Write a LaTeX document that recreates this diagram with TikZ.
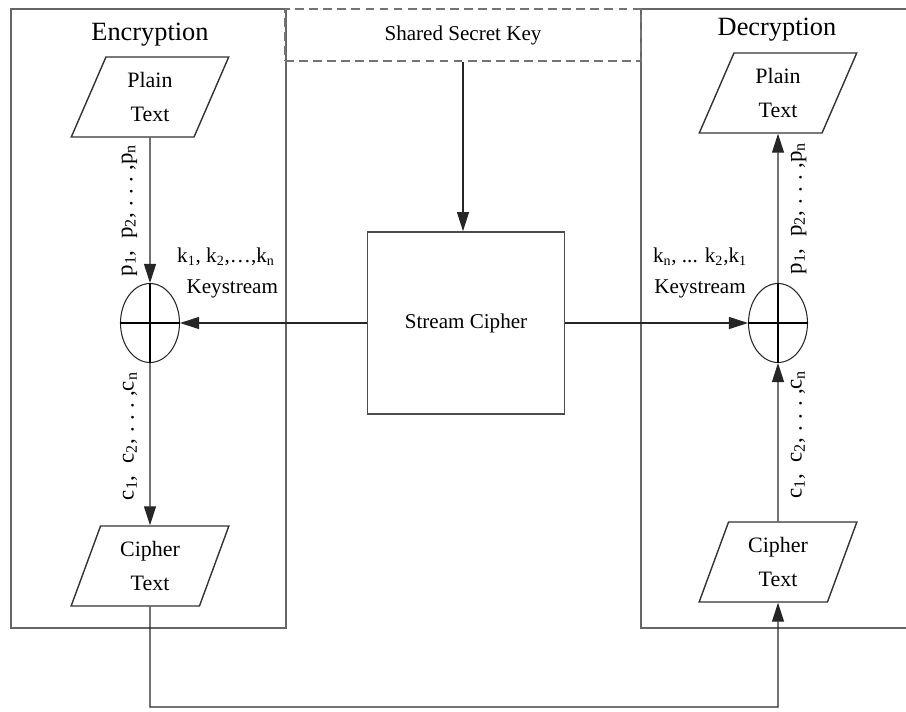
\documentclass[tikz,border=0pt]{standalone}
\usepackage{fontspec}
\setmainfont{Liberation Serif}
\usetikzlibrary{shapes.geometric, arrows.meta, fit}

\begin{document}
\begin{tikzpicture}[x=0.02cm, y=-0.02cm]
    \tikzstyle{frame} = [draw=black!60, line width=1.1pt, inner sep=0pt]
    \tikzstyle{keybox} = [draw=black!55, line width=1.1pt, dash pattern=on 5pt off 3pt, inner sep=0pt]
    \tikzstyle{io} = [trapezium, trapezium left angle=70, trapezium right angle=110, trapezium stretches=true, draw=black!80, line width=0.8pt, minimum width=3.16cm, minimum height=1.6cm, align=center, inner sep=0pt, font=\fontsize{12.5}{19}\selectfont]
    \tikzstyle{xor} = [ellipse, draw=black!85, line width=0.6pt, minimum width=1.18cm, minimum height=1.58cm, inner sep=0pt]
    \tikzstyle{process} = [rectangle, draw=black!70, line width=1pt, minimum width=3.94cm, minimum height=3.64cm, font=\fontsize{12}{14}\selectfont]
    \tikzstyle{arrow} = [line width=0.6pt, draw=black!85, -{Triangle[length=0.38cm, width=0.24cm]}]
    \tikzstyle{title} = [font=\fontsize{15}{17}\selectfont]
    \tikzstyle{seq} = [font=\fontsize{12}{17.5}\selectfont, inner sep=2pt]
    \tikzstyle{stream} = [font=\fontsize{13}{15}\selectfont, inner sep=7pt, rotate=90]

    \newcommand{\plist}[1]{#1\textsubscript{1},\ \ #1\textsubscript{2},\;.\;.\;.\;,#1\textsubscript{n}}

    \useasboundingbox (0,0) rectangle (906,711);
    \clip (0,0) rectangle (906,711);

    % outer frames and the shared key
    \node (encbox) [frame, fit={(11,9) (286,628)}] {};
    \node (decbox) [frame, fit={(641,9) (930,628)}] {};
    \node (key) [keybox, fit={(285,9) (641,61)}] {};
    \node at (key.center) [font=\fontsize{12}{14}\selectfont] (keytext) {Shared Secret Key};
    \node (enctitle) [title] at (150,35) {Encryption};
    \node (dectitle) [title] at (777,30) {Decryption};

    \node (cipher) [process] at (466,323) {Stream Cipher};

    % encryption side
    \node (plain1) [io] at (150,97) {Plain\\Text};
    \node (xor1) [xor] at (150,323) {};
    \node (ct1) [io] at (150,566) {Cipher\\Text};

    % decryption side
    \node (plain2) [io] at (778,93) {Plain\\Text};
    \node (xor2) [xor] at (778,323) {};
    \node (ct2) [io] at (778,562) {Cipher\\Text};

    \node (ks1) [seq, align=center] at (226,273) {k\textsubscript{1}, k\textsubscript{2},\ldots,k\textsubscript{n}\\\hspace*{0.6em}Keystream};
    \node (ks2) [seq, align=center] at (700,273) {k\textsubscript{n}, ... k\textsubscript{2},k\textsubscript{1}\\Keystream};

    % plus signs inside the xor circles
    \draw [line width=0.6pt] (xor1.west) -- (xor1.east);
    \draw [line width=0.6pt] (xor2.west) -- (xor2.east);
    \draw [line width=0.6pt] (xor1.north) -- (xor1.south);
    \draw [line width=0.6pt] (xor2.north) -- (xor2.south);

    % Arrows
    \draw [arrow] (key.south -| 463,0) -- (cipher.north -| 463,0);
    \draw [arrow] (plain1.south) -- node[stream, midway, anchor=south] {\plist{p}} (xor1.north);
    \draw [arrow] (xor1.south) -- node[stream, pos=0.45, anchor=south] {\plist{c}} (ct1.north);
    \draw [arrow] (cipher.west) -- (xor1.east);
    \draw [arrow] (cipher.east) -- (xor2.west);
    \draw [arrow] (xor2.north) -- node[stream, midway, anchor=north] {\plist{p}} (plain2.south);
    \draw [arrow] (ct2.north) -- node[stream, pos=0.55, anchor=north] {\plist{c}} (xor2.south);
    \coordinate (turn) at (150,707);
    \draw [arrow] (ct1.south) -- (turn) -| (ct2.south);
\end{tikzpicture}
\end{document}
